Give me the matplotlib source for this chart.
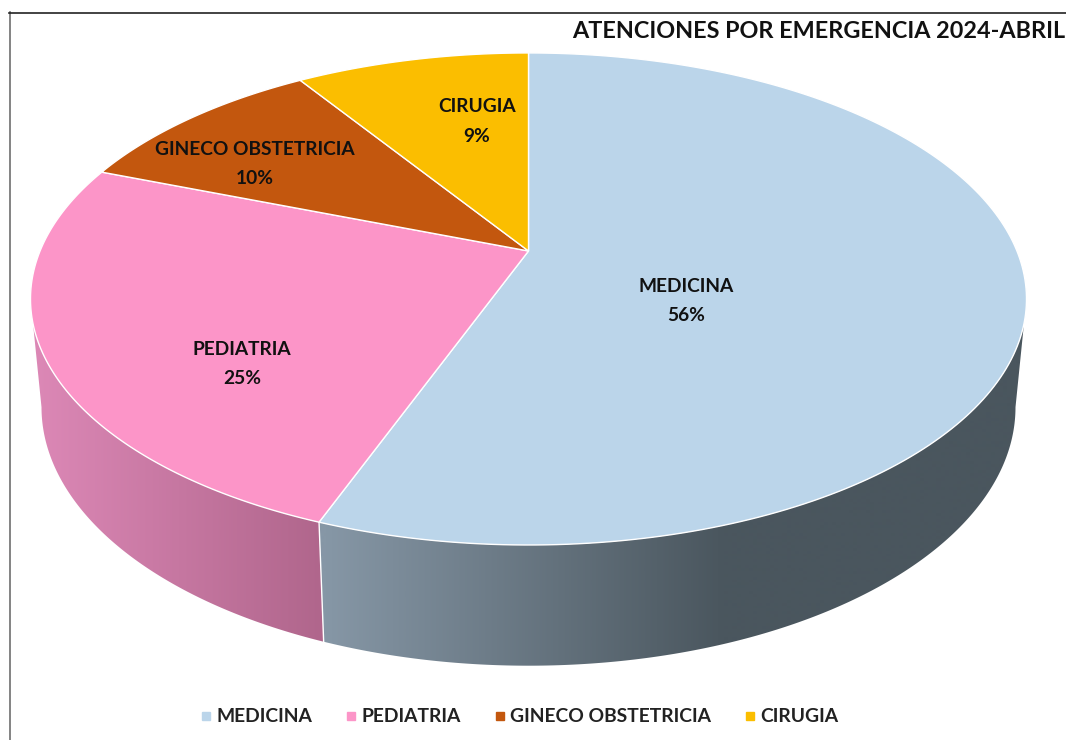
import numpy as np
import matplotlib
matplotlib.use("Agg")
import matplotlib.pyplot as plt
from matplotlib.patches import Polygon
from matplotlib.lines import Line2D
from matplotlib.colors import LinearSegmentedColormap

plt.rcParams['font.family'] = ['Lato', 'DejaVu Sans']

categories = ['MEDICINA', 'PEDIATRIA', 'GINECO OBSTETRICIA', 'CIRUGIA']
values = [55.7, 25.1, 10.05, 9.15]
colors = ['#BBD5EA', '#FC95C8', '#C3570E', '#FBBE00']
title = 'ATENCIONES POR EMERGENCIA 2024-ABRIL'
label_xy = [(686, 301), (242, 364), (255, 164), (477, 121.5)]

# Perspective disc model: (pixel coordinates of the chart)
CX, K = 528.5, -0.195
TOP = dict(y0=251.0, a=498 * np.sqrt(1 - K**2), b=294 * (1 + K))
BOT = dict(y0=356.7, a=487 * np.sqrt(1 - K**2), b=309.0 * (1 + K))


def rim(theta, p):
    """theta in radians clockwise from 12 o'clock."""
    u, v = np.sin(theta), -np.cos(theta)
    w = 1 + K * v
    return np.column_stack([CX + p['a'] * u / w, p['y0'] + p['b'] * v / w])


def arc(t0, t1, n=200):
    return np.linspace(t0, t1, n)


fig = plt.figure(figsize=(10.66, 7.4), dpi=100)
ax = fig.add_axes([0, 0, 1, 1])
ax.axis('off')

fracs = np.array(values) / sum(values)
edges = np.concatenate([[0], np.cumsum(fracs)]) * 2 * np.pi
seam = edges[1]

# visible side walls
t_r_top, t_r_bot = np.arccos(-0.29), np.arccos(-0.195)
t_l_top, t_l_bot = 2 * np.pi - t_r_top, 2 * np.pi - t_r_bot
wall_blue = np.vstack([rim(arc(t_r_top, seam), TOP), rim(arc(seam, t_r_bot), BOT)])
wall_pink = np.vstack([rim(arc(seam, t_l_top), TOP), rim(arc(t_l_bot, seam), BOT)])


def wall(poly, c0, c1, x0, x1):
    patch = Polygon(poly, closed=True, fc='none', ec='none', zorder=1)
    ax.add_patch(patch)
    cmap = LinearSegmentedColormap.from_list('g', [c0, c1])
    grad = np.clip((np.linspace(0, 1066, 1067) - x0) / (x1 - x0), 0, 1)[None, :]
    im = ax.imshow(grad, cmap=cmap, vmin=0, vmax=1, extent=[0, 1066, 740, 0], aspect='auto',
                   zorder=1, interpolation='bilinear')
    im.set_clip_path(patch)


wall(wall_blue, '#8697A6', '#4A565E', 325, 725)
wall(wall_pink, '#DC88B6', '#B0668C', 35, 322)
ax.add_line(Line2D(*np.vstack([rim(np.array([seam]), TOP), rim(np.array([seam]), BOT)]).T,
                   color='white', lw=1.0, zorder=2))
ax.set_xlim(0, 1066)
ax.set_ylim(740, 0)

# top surface
for i, c in enumerate(colors):
    apex = rim(np.array([0.0]), dict(TOP, a=0, b=0))
    pts = np.vstack([apex, rim(arc(edges[i], edges[i + 1]), TOP)])
    ax.add_patch(Polygon(pts, closed=True, fc=c, ec='white', lw=1.0, zorder=3, joinstyle='round'))

# data labels
for name, val, (x, y) in zip(categories, values, label_xy):
    ax.text(x, y, f'{name}\n{round(val)}%', ha='center', va='center', fontsize=13.8,
            fontweight='bold', color='#111111', linespacing=1.9, zorder=5)

# frame
ax.add_line(Line2D([9.5, 9.5], [12, 740], color='#6E6E6E', lw=1.2, zorder=6))
ax.add_line(Line2D([9, 1066], [12.5, 12.5], color='#222222', lw=1.2, zorder=6))

ax.text(572, 31, title, ha='left', va='center', fontsize=16.8, fontweight='bold',
        color='#111111', zorder=6, clip_on=True)

handles = [Line2D([], [], ls='none', marker='s', ms=6, mfc=c, mec=c) for c in colors]
ax.legend(handles, categories, loc='center', bbox_to_anchor=(520, 717),
          bbox_transform=ax.transData, ncol=4, frameon=False,
          handlelength=0.5, handletextpad=0.3, columnspacing=1.75,
          labelcolor='#222222', prop=dict(size=13.9, weight='bold'))

fig.savefig('out.png', dpi=100, facecolor='white')
